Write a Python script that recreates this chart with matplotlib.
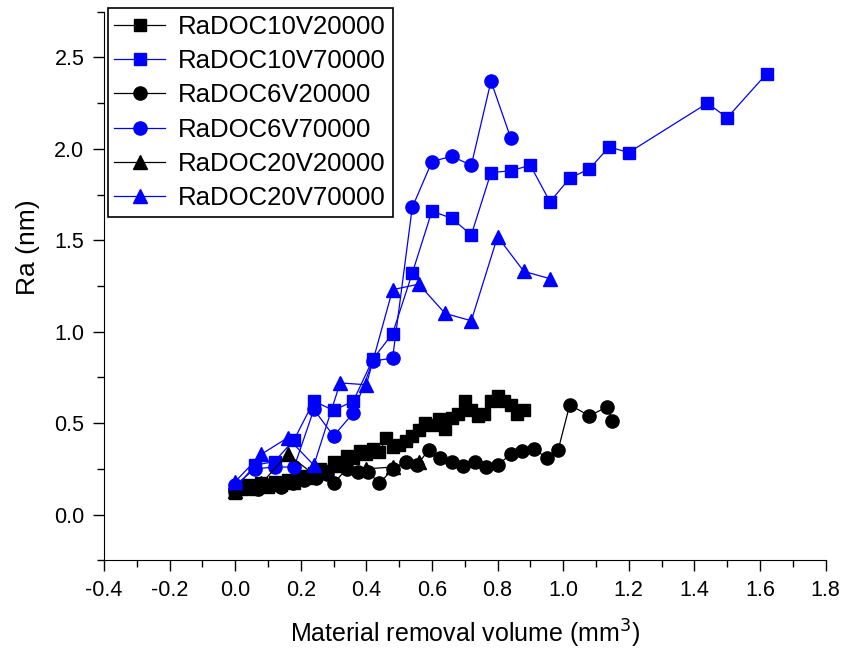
import matplotlib.pyplot as plt
from matplotlib.ticker import MultipleLocator

# RaDOC10V20000 (black squares)
x_sq_20 = [0.00, 0.02, 0.04, 0.06, 0.08, 0.10, 0.12, 0.14, 0.16, 0.18,
           0.20, 0.22, 0.24, 0.26, 0.28, 0.30, 0.32, 0.34, 0.36, 0.38,
           0.40, 0.42, 0.44, 0.46, 0.48, 0.50, 0.52, 0.54, 0.56, 0.58,
           0.60, 0.62, 0.64, 0.66, 0.68, 0.70, 0.72, 0.74, 0.76, 0.78,
           0.80, 0.82, 0.84, 0.86, 0.88]
y_sq_20 = [0.12, 0.14, 0.16, 0.14, 0.17, 0.15, 0.18, 0.16, 0.19, 0.17,
           0.21, 0.20, 0.23, 0.25, 0.24, 0.29, 0.27, 0.32, 0.31, 0.35,
           0.33, 0.36, 0.34, 0.42, 0.37, 0.38, 0.40, 0.43, 0.46, 0.50,
           0.49, 0.52, 0.47, 0.53, 0.55, 0.62, 0.57, 0.54, 0.55, 0.62,
           0.65, 0.62, 0.60, 0.55, 0.57]

# RaDOC10V70000 (blue squares)
x_sq_70 = [0.00, 0.06, 0.12, 0.18, 0.24, 0.30, 0.36, 0.42, 0.48, 0.54,
           0.60, 0.66, 0.72, 0.78, 0.84, 0.90, 0.96, 1.02, 1.08, 1.14,
           1.20, 1.44, 1.50, 1.62]
y_sq_70 = [0.14, 0.27, 0.29, 0.41, 0.62, 0.57, 0.62, 0.85, 0.99, 1.32,
           1.66, 1.62, 1.53, 1.87, 1.88, 1.91, 1.71, 1.84, 1.89, 2.01,
           1.98, 2.25, 2.17, 2.41]

# RaDOC6V20000 (black circles)
x_ci_20 = [0.00, 0.035, 0.07, 0.105, 0.14, 0.175, 0.21, 0.245, 0.28, 0.30,
           0.34, 0.375, 0.405, 0.44, 0.48, 0.52, 0.555, 0.59, 0.625, 0.66,
           0.695, 0.73, 0.765, 0.80, 0.84, 0.875, 0.91, 0.95, 0.985, 1.02,
           1.08, 1.135, 1.15]
y_ci_20 = [0.13, 0.15, 0.14, 0.16, 0.15, 0.17, 0.19, 0.20, 0.22, 0.17,
           0.25, 0.235, 0.235, 0.17, 0.25, 0.29, 0.27, 0.355, 0.31, 0.285,
           0.265, 0.29, 0.26, 0.27, 0.33, 0.345, 0.36, 0.31, 0.355, 0.60,
           0.54, 0.59, 0.51]

# RaDOC6V70000 (blue circles)
x_ci_70 = [0.00, 0.06, 0.12, 0.18, 0.24, 0.30, 0.36, 0.42, 0.48, 0.54,
           0.60, 0.66, 0.72, 0.78, 0.84]
y_ci_70 = [0.16, 0.25, 0.26, 0.26, 0.575, 0.43, 0.555, 0.84, 0.855, 1.68,
           1.93, 1.96, 1.91, 2.37, 2.06]

# RaDOC20V20000 (black triangles)
x_tr_20 = [0.00, 0.08, 0.16, 0.24, 0.32, 0.40, 0.48, 0.56]
y_tr_20 = [0.13, 0.17, 0.33, 0.22, 0.27, 0.25, 0.26, 0.29]

# RaDOC20V70000 (blue triangles)
x_tr_70 = [0.00, 0.08, 0.16, 0.24, 0.32, 0.40, 0.48, 0.56, 0.64, 0.72,
           0.80, 0.88, 0.96]
y_tr_70 = [0.18, 0.33, 0.42, 0.27, 0.72, 0.71, 1.23, 1.26, 1.10, 1.06,
           1.52, 1.33, 1.29]

series = [
    ("RaDOC10V20000", x_sq_20, y_sq_20, "black", "s", 8.5),
    ("RaDOC10V70000", x_sq_70, y_sq_70, "blue", "s", 8.5),
    ("RaDOC6V20000", x_ci_20, y_ci_20, "black", "o", 9.5),
    ("RaDOC6V70000", x_ci_70, y_ci_70, "blue", "o", 9.5),
    ("RaDOC20V20000", x_tr_20, y_tr_20, "black", "^", 10),
    ("RaDOC20V70000", x_tr_70, y_tr_70, "blue", "^", 10),
]

plt.rcParams['font.family'] = ['Liberation Sans', 'DejaVu Sans']

fig = plt.figure(figsize=(8.45, 6.5), dpi=100)
ax = fig.add_axes([0.123, 0.138, 0.854, 0.844])

for label, xs, ys, col, mk, ms in series:
    ax.plot(xs, ys, color=col, linewidth=0.9, marker=mk, markersize=ms,
            markeredgecolor=col, markerfacecolor=col, label=label)

ax.set_xlim(-0.4, 1.8)
ax.set_ylim(-0.25, 2.75)
ax.xaxis.set_major_locator(MultipleLocator(0.2))
ax.xaxis.set_minor_locator(MultipleLocator(0.1))
ax.yaxis.set_minor_locator(MultipleLocator(0.25))
ax.set_yticks([0.0, 0.5, 1.0, 1.5, 2.0, 2.5])
ax.set_xticks([-0.4, -0.2, 0.0, 0.2, 0.4, 0.6, 0.8, 1.0, 1.2, 1.4, 1.6, 1.8])
ax.set_xticklabels(['-0.4', '-0.2', '0.0', '0.2', '0.4', '0.6', '0.8',
                    '1.0', '1.2', '1.4', '1.6', '1.8'])

for side in ['top', 'right']:
    ax.spines[side].set_visible(False)
ax.tick_params(which='major', direction='out', length=8, width=1,
               labelsize=15.5, pad=6)
ax.tick_params(which='minor', direction='out', length=5, width=1)

ax.set_xlabel('Material removal volume (mm$^3$)', fontsize=18, labelpad=12)
ax.set_ylabel('Ra (nm)', fontsize=19)
ax.yaxis.set_label_coords(-0.088, 0.57)

leg = ax.legend(loc='upper left', bbox_to_anchor=(0.005, 1.006),
                borderaxespad=0, fontsize=18.5, numpoints=1,
                handlelength=2.0, labelspacing=0.4, borderpad=0.25,
                handletextpad=0.5, fancybox=False, framealpha=1,
                edgecolor='black')
leg.get_frame().set_linewidth(1.2)

fig.savefig('out.png', dpi=100)
